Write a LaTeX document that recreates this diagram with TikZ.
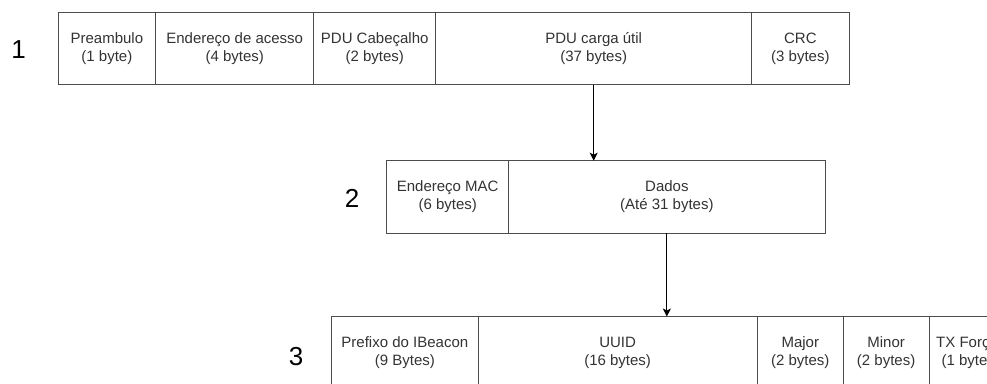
\documentclass[tikz,border=0pt]{standalone}
\usepackage{fontspec}
\setmainfont{Liberation Sans}
\usetikzlibrary{positioning,arrows.meta}

\tikzset{
  campo/.style={draw=black!70, line width=1bp, minimum height=72.6bp, inner sep=0pt,
    outer sep=0pt, align=center, text=black!80, font=\fontsize{15bp}{18bp}\selectfont},
  nivel/.style={font=\fontsize{26bp}{30bp}\selectfont},
  seta/.style={draw=black, line width=1bp, -{Stealth[length=8bp,width=8bp,inset=2bp]}}
}

\begin{document}
\begin{tikzpicture}[x=1bp,y=-1bp]
\useasboundingbox (0,0) rectangle (987,383);
% nivel 1: pacote
\node[nivel] (n1) at (18.5,50) {1};
\node[campo, minimum width=97.7bp, anchor=north west] (pre) at (58,12.3) {Preambulo\\(1 byte)};
\node[campo, minimum width=158bp, right=0pt of pre] (acesso) {Endereço de acesso\\(4 bytes)};
\node[campo, minimum width=122bp, right=0pt of acesso] (cab) {PDU Cabeçalho\\(2 bytes)};
\node[campo, minimum width=316bp, right=0pt of cab] (carga) {PDU carga útil\\(37 bytes)};
\node[campo, minimum width=97.3bp, right=0pt of carga] (crc) {CRC\\(3 bytes)};
% nivel 2: carga util
\node[nivel] (n2) at (352,198) {2};
\node[campo, minimum width=122bp, anchor=north west] (mac) at (386.7,160.7) {Endereço MAC\\(6 bytes)};
\node[campo, minimum width=316.3bp, right=0pt of mac] (dados) {Dados\\(Até 31 bytes)};
% nivel 3: iBeacon
\node[nivel] (n3) at (296,357) {3};
\node[campo, minimum width=146.3bp, anchor=north west] (prefixo) at (331.7,316.5) {Prefixo do IBeacon\\(9 Bytes)};
\node[campo, minimum width=279.3bp, right=0pt of prefixo] (uuid) {UUID\\(16 bytes)};
\node[campo, minimum width=86bp, right=0pt of uuid] (major) {Major\\(2 bytes)};
\node[campo, minimum width=85.7bp, right=0pt of major] (minor) {Minor\\(2 bytes)};
\node[campo, minimum width=76bp, right=0pt of minor] (tx) {TX Força\\(1 byte)};

\draw[seta] (carga.south) -- (carga.south |- mac.north);
\draw[seta] (dados.south) -- (dados.south |- uuid.north);
\end{tikzpicture}
\end{document}
